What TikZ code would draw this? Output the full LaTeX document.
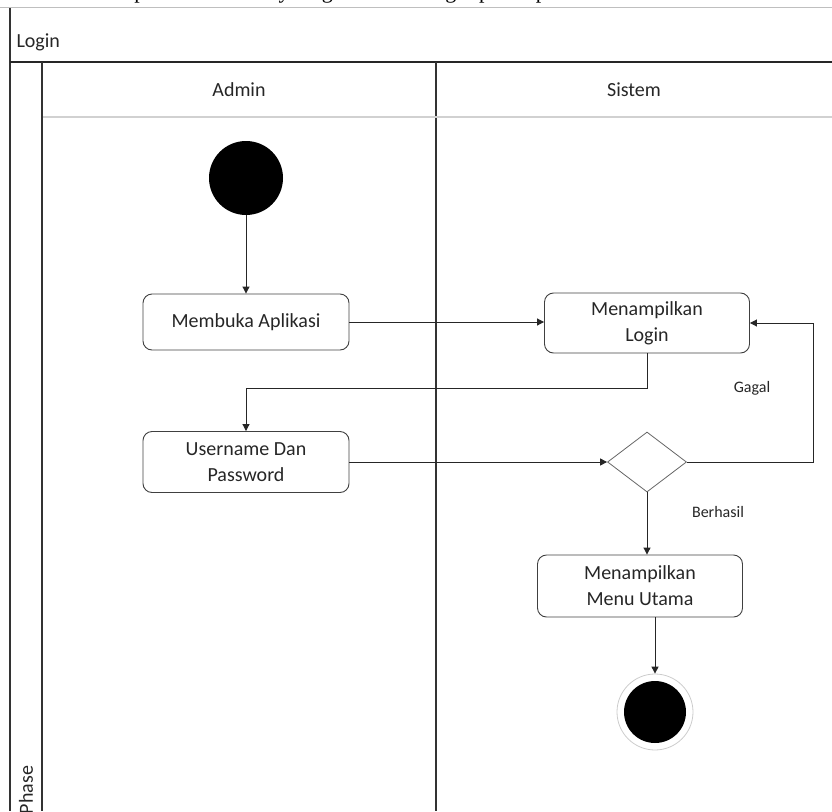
\documentclass[tikz,border=0pt]{standalone}
\usepackage{fontspec}
\setmainfont{Carlito}
\newfontfamily\capfont{Liberation Serif}
\usetikzlibrary{arrows.meta,shapes.geometric}
\begin{document}
\begin{tikzpicture}[x=1pt,y=-1pt,
  lane/.style={draw=black!80,line width=1.1pt},
  act/.style={draw=black!75,line width=0.9pt,rounded corners=9pt,
    minimum width=206pt,minimum height=58pt,align=center,
    font=\fontsize{20}{26}\selectfont,inner sep=2pt,text=black!85},
  flow/.style={draw=black!85,line width=1pt,-{Triangle[width=7pt,length=7pt]}},
  dec/.style={diamond,draw=black!60,line width=0.8pt,minimum width=79pt,
    minimum height=60pt,inner sep=0pt},
  hdr/.style={font=\fontsize{20}{24}\selectfont,text=black!85},
  lbl/.style={font=\fontsize{16}{20}\selectfont,text=black!85}
]
\useasboundingbox (0,0) rectangle (832,811);
\clip (0,0) rectangle (832,811);

% caption line of the page above the figure, only its lowest strip shows
\begin{scope}
  \clip (0,0) rectangle (832,6.5);
  \node[anchor=base west,inner sep=0pt,font=\capfont\fontsize{22}{24}\selectfont]
    (cap) at (-62,-1.5) {Berikut ini adalah tampilan dari activity diagram untuk login pada aplikasi};
\end{scope}

% pool frame
\draw[black!25,line width=1pt] (0,7.5) -- (832,7.5);
\draw[lane] (10,8) -- (10,811);
\draw[black!85,line width=1.8pt] (10,62) -- (832,62);
\draw[lane] (42,62) -- (42,811);
\draw[lane] (436,62) -- (436,811);
\draw[black!18,line width=2pt] (43,117) -- (832,117);

% headers
\node[hdr,anchor=west] (pool) at (13,42) {Login};
\node[hdr] (admin) at (239,90) {Admin};
\node[hdr] (sistem) at (634,90) {Sistem};
\node[hdr,rotate=90] (phase) at (26,790) {Phase};

% activities
\node[circle,fill=black,minimum size=74pt,inner sep=0pt] (start) at (246,178) {};
\node[act,minimum height=56pt] (buka) at (246,322) {Membuka Aplikasi};
\node[act,minimum width=205pt,minimum height=60pt] (tlogin) at (647,323) {Menampilkan\\Login};
\node[act,minimum height=61pt] (user) at (246,462) {Username Dan\\Password};
\node[dec] (cek) at (647,462) {};
\node[act,minimum width=205pt,minimum height=62pt] (menu) at (640,586) {Menampilkan\\Menu Utama};
\node[circle,draw=black!20,line width=0.8pt,minimum size=76pt,inner sep=0pt] (end) at (655,712) {};
\node[circle,fill=black,minimum size=62pt,inner sep=0pt] (endin) at (end.center) {};

% guard labels
\node[lbl] (gagal) at (752,388) {Gagal};
\node[lbl] (berhasil) at (718,512) {Berhasil};

% connectors
\coordinate (gc) at (813,462);
\draw[flow] (start) -- (buka);
\draw[flow] (buka.east) -- (buka.east -| tlogin.west);
\draw[flow] (tlogin.south) -- ++(0,35) -| (user.north);
\draw[flow] (user.east) -- (user.east -| cek.west);
\draw[flow] (cek.east) -- (gc) |- (tlogin.east);
\draw[flow] (cek.south) -- (cek.south |- menu.north);
\draw[flow] (end.north |- menu.south) -- (end.north);
\end{tikzpicture}
\end{document}
